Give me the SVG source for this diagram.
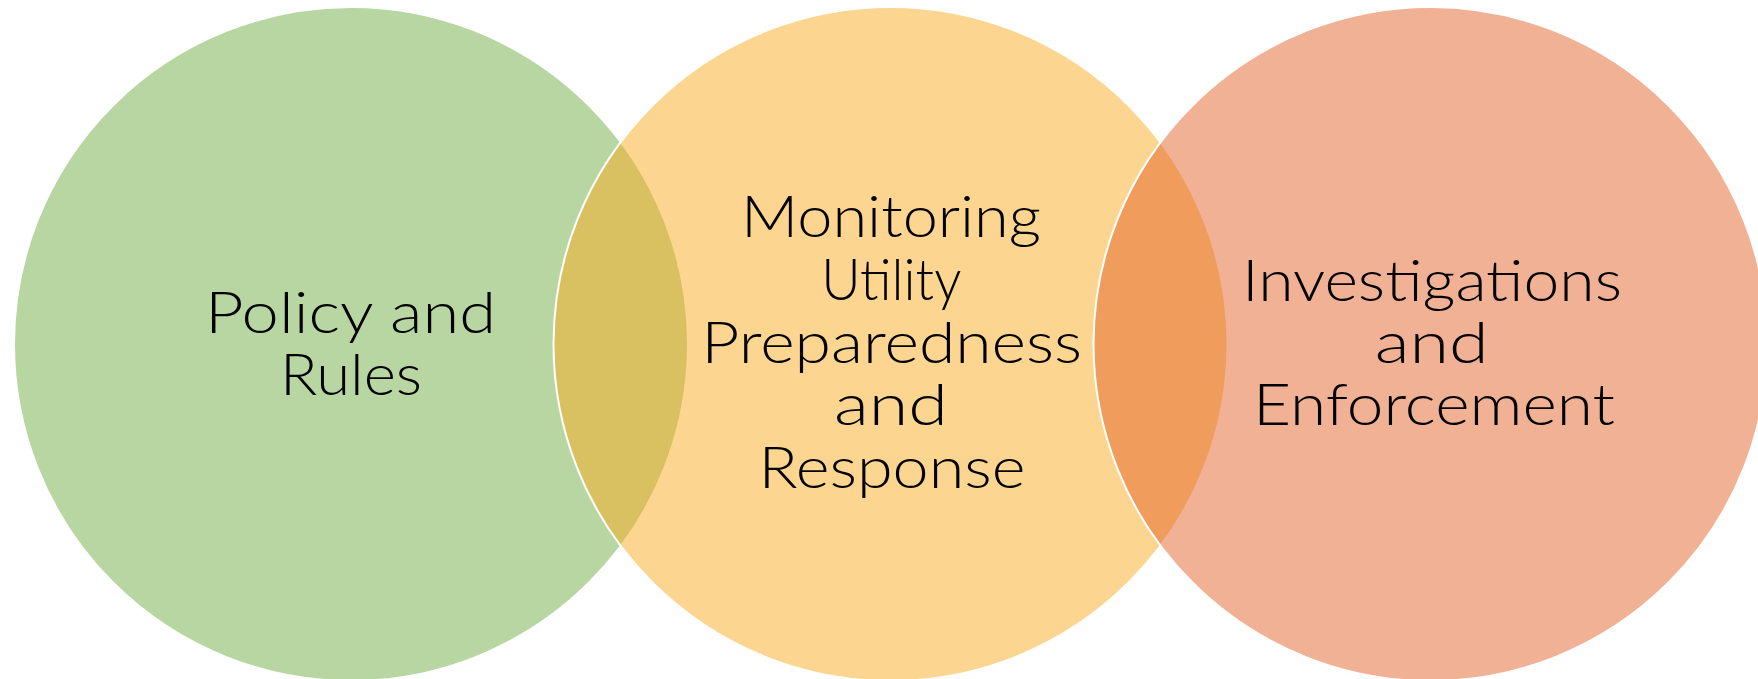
<svg xmlns="http://www.w3.org/2000/svg" width="1758" height="679" viewBox="0 0 1758 679">
  <style>
    .c { stroke: #ffffff; stroke-width: 2; fill-opacity: 0.5; }
    .t { font-family: "Lato", "Noto Sans", "DejaVu Sans", sans-serif; font-weight: 300; font-size: 57px; fill: #000000; text-anchor: middle; }
  </style>
  <rect width="1758" height="679" fill="#ffffff"/>
  <g id="node-policy">
    <circle class="c" cx="351" cy="344" r="337" fill="#71AD45"/>
    <text class="t" x="350.5" y="332.5" textLength="291" lengthAdjust="spacingAndGlyphs">Policy and</text>
    <text class="t" x="351" y="394.5" textLength="142" lengthAdjust="spacingAndGlyphs">Rules</text>
  </g>
  <g id="node-monitoring">
    <circle class="c" cx="890.5" cy="344" r="337" fill="#F9AB21"/>
    <text class="t" x="891" y="237" textLength="300" lengthAdjust="spacingAndGlyphs">Monitoring</text>
    <text class="t" x="891.3" y="299.5" textLength="140" lengthAdjust="spacingAndGlyphs">Utility</text>
    <text class="t" x="891.7" y="362.5" textLength="381" lengthAdjust="spacingAndGlyphs">Preparedness</text>
    <text class="t" x="891" y="425" textLength="114" lengthAdjust="spacingAndGlyphs">and</text>
    <text class="t" x="892" y="488" textLength="267" lengthAdjust="spacingAndGlyphs">Response</text>
  </g>
  <g id="node-investigations">
    <circle class="c" cx="1430.5" cy="344" r="337" fill="#E36329"/>
    <text class="t" x="1432" y="300.5" textLength="380" lengthAdjust="spacingAndGlyphs">Investigations</text>
    <text class="t" x="1431.7" y="362.5" textLength="114" lengthAdjust="spacingAndGlyphs">and</text>
    <text class="t" x="1434" y="425" textLength="362" lengthAdjust="spacingAndGlyphs">Enforcement</text>
  </g>
</svg>
